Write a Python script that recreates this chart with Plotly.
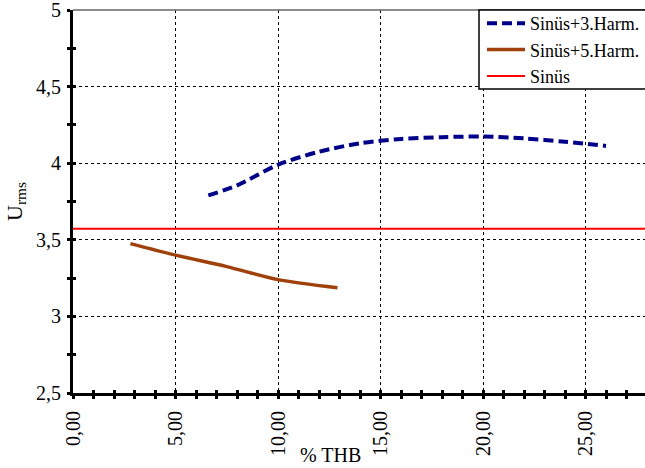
import plotly.graph_objects as go

# THB (%) and RMS voltage readings for each test signal
thb_h3 = [6.6, 8.0, 10.0, 12.0, 14.0, 16.0, 18.0, 20.0, 22.0, 24.0, 26.0]
urms_h3 = [3.79, 3.855, 3.99, 4.075, 4.13, 4.158, 4.17, 4.174, 4.162, 4.14, 4.113]

thb_h5 = [2.8, 5.0, 7.5, 10.0, 12.9]
urms_h5 = [3.475, 3.40, 3.325, 3.24, 3.187]

thb_sin = [0.0, 28.0]
urms_sin = [3.572, 3.572]

x_ticks = [0, 5, 10, 15, 20, 25]
y_ticks = [2.5, 3, 3.5, 4, 4.5, 5]

FONT = "Liberation Serif"

# plot-area geometry in pixels
W, H = 645, 468
L, T, B = 73, 10, 75
PW, PH = W - L, H - T - B


def px_x(px):
    return (px - L) / PW


def px_y(py):
    return (H - B - py) / PH


fig = go.Figure()
fig.add_trace(go.Scatter(
    x=thb_h3, y=urms_h3, mode="lines", name="Sinüs+3.Harm.",
    line=dict(color="#000088", width=4, dash="10px,5px", shape="spline", smoothing=0.8),
))
fig.add_trace(go.Scatter(
    x=thb_h5, y=urms_h5, mode="lines", name="Sinüs+5.Harm.",
    line=dict(color="#A0400A", width=3.5, shape="spline", smoothing=0.8),
))
fig.add_trace(go.Scatter(
    x=thb_sin, y=urms_sin, mode="lines", name="Sinüs",
    line=dict(color="#FF0000", width=2),
))
# invisible trace so the inner-tick overlay axes get drawn
fig.add_trace(go.Scatter(x=[0], y=[2.5], xaxis="x2", yaxis="y2",
                         mode="markers", marker=dict(opacity=0),
                         showlegend=False, hoverinfo="skip"))

xr = [0, 27.9]
yr = [2.5, 5]

fig.update_layout(
    width=W, height=H,
    margin=dict(l=L, r=0, t=T, b=B, autoexpand=False),
    paper_bgcolor="white", plot_bgcolor="white",
    separators=", ",
    font=dict(family=FONT, size=20, color="black"),
    showlegend=True,
    legend=dict(
        x=px_x(482), y=px_y(5), xanchor="left", yanchor="top",
        bgcolor="rgba(0,0,0,0)", borderwidth=0,
        font=dict(family=FONT, size=18, color="black"),
        itemwidth=38, tracegroupgap=0,
    ),
    xaxis=dict(
        range=xr, tickvals=x_ticks, tickformat=".2f", tickangle=-90,
        tickfont=dict(family=FONT, size=20),
        ticklabelstandoff=4, ticklabeloverflow="allow",
        showgrid=True, gridcolor="black", gridwidth=1, griddash="dot",
        zeroline=False, showline=True, linecolor="black", linewidth=3,
        ticks="outside", ticklen=3, tickwidth=3, tickcolor="black",
        minor=dict(dtick=1, ticks="outside", ticklen=3, tickwidth=3,
                   tickcolor="black", showgrid=False),
    ),
    yaxis=dict(
        range=yr, tickvals=y_ticks,
        tickfont=dict(family=FONT, size=20),
        ticklabelstandoff=2, ticklabeloverflow="allow",
        showgrid=True, gridcolor="black", gridwidth=1, griddash="dot",
        zeroline=False, showline=True, linecolor="black", linewidth=3,
        ticks="outside", ticklen=3, tickwidth=3, tickcolor="black",
        minor=dict(dtick=0.25, ticks="outside", ticklen=3, tickwidth=3,
                   tickcolor="black", showgrid=False),
        title=dict(text="U<sub>rms</sub>", font=dict(family=FONT, size=22), standoff=8),
    ),
    xaxis2=dict(
        range=xr, overlaying="x", anchor="y2", side="bottom",
        showgrid=False, zeroline=False, showticklabels=False,
        ticks="inside", ticklen=3, tickwidth=3, tickcolor="black",
        tickvals=x_ticks,
        minor=dict(dtick=1, ticks="inside", ticklen=3, tickwidth=3,
                   tickcolor="black", showgrid=False),
    ),
    yaxis2=dict(
        range=yr, overlaying="y", anchor="x2", side="left",
        showgrid=False, zeroline=False, showticklabels=False,
        ticks="inside", ticklen=3, tickwidth=3, tickcolor="black",
        tickvals=y_ticks,
        minor=dict(dtick=0.25, ticks="inside", ticklen=3, tickwidth=3,
                   tickcolor="black", showgrid=False),
    ),
    shapes=[
        # thin frame line along the top of the plot area
        dict(type="line", xref="paper", yref="paper", x0=0, x1=1,
             y0=1, y1=1, line=dict(color="#666666", width=1.5)),
        # legend box (runs off the right edge)
        dict(type="rect", xref="paper", yref="paper", layer="above",
             x0=px_x(479), x1=px_x(W + 10), y0=px_y(89), y1=1,
             fillcolor="white", line=dict(color="black", width=1.5)),
    ],
    annotations=[
        dict(text="% THB", xref="paper", yref="paper",
             x=px_x(330), y=px_y(455), xanchor="center", yanchor="middle",
             showarrow=False, font=dict(family=FONT, size=20, color="black")),
    ],
)

fig.write_html("out.html")
